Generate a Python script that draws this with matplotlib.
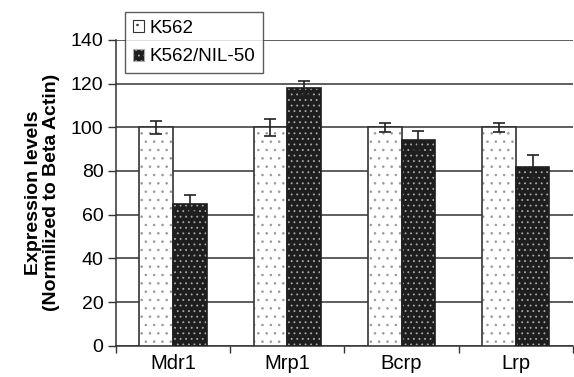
import matplotlib.pyplot as plt
import numpy as np

plt.rcParams['font.family'] = ['Liberation Sans', 'DejaVu Sans']
plt.rcParams['hatch.linewidth'] = 0.6

# Data
genes = ['Mdr1', 'Mrp1', 'Bcrp', 'Lrp']
k562 = [100, 100, 100, 100]
k562_err = [3, 3.8, 2, 2]
nil50 = [65, 118, 94, 82]
nil50_err = [4, 3, 4.5, 5.5]

fig = plt.figure(figsize=(5.74, 3.77), dpi=100)
ax = fig.add_axes([0.202, 0.083, 0.796, 0.811])

x = np.arange(len(genes))
w = 0.295

# light dotted bars
ax.bar(x - w / 2, k562, w, color='white', edgecolor='#999999', hatch='..', linewidth=0, zorder=3)
ax.bar(x - w / 2, k562, w, color='none', edgecolor='#333333', linewidth=1.2, zorder=4)

# dark bars with white dots
ax.bar(x + w / 2, nil50, w, color='#1e1e1e', edgecolor='#aaaaaa', hatch='...', linewidth=0, zorder=3)
ax.bar(x + w / 2, nil50, w, color='none', edgecolor='#1e1e1e', linewidth=1.2, zorder=4)

# error bars
ax.errorbar(x - w / 2, k562, yerr=k562_err, fmt='none', ecolor='#222222', elinewidth=1.2, capsize=4.3, capthick=1.2, zorder=5)
ax.errorbar(x + w / 2, nil50, yerr=nil50_err, fmt='none', ecolor='#222222', elinewidth=1.2, capsize=4.3, capthick=1.2, zorder=5)

# legend proxies
h1 = ax.bar([0], [0], color='white', edgecolor='#333333', hatch='..', linewidth=0.8)
h2 = ax.bar([0], [0], color='#1e1e1e', edgecolor='#aaaaaa', hatch='...', linewidth=0.8)
leg = ax.legend([h1, h2], ['K562', 'K562/NIL-50'], loc='upper left', bbox_to_anchor=(0.02, 1.09),
                fontsize=13.5, frameon=True, fancybox=False, edgecolor='#333333',
                handlelength=0.6, handleheight=0.6, handletextpad=0.3, borderpad=0.4, labelspacing=0.6,
                borderaxespad=0)
leg.get_frame().set_linewidth(1.0)
leg.set_zorder(10)

ax.set_ylim(0, 140)
ax.set_xlim(-0.5, 3.5)
ax.set_yticks(range(0, 141, 20))
ax.yaxis.grid(True, color='#333333', linewidth=1.1, zorder=0)
ax.set_axisbelow(True)

ax.set_xticks([-0.5, 0.5, 1.5, 2.5, 3.5])
ax.set_xticklabels([])
ax.set_xticks(x, minor=True)
ax.set_xticklabels(genes, minor=True, fontsize=14.5)
ax.tick_params(axis='x', which='major', length=5, width=1, color='#333333')
ax.tick_params(axis='x', which='minor', length=0, pad=6)
ax.tick_params(axis='y', length=6, width=1, color='#333333', labelsize=14, pad=3)

for s in ['top', 'right']:
    ax.spines[s].set_visible(False)
for s in ['left', 'bottom']:
    ax.spines[s].set_color('#333333')
    ax.spines[s].set_linewidth(1.1)

ax.set_ylabel('Expression levels\n(Normilized to Beta Actin)', fontsize=14, fontweight='bold', labelpad=8, linespacing=1.05)

fig.savefig('out.png', dpi=100)
